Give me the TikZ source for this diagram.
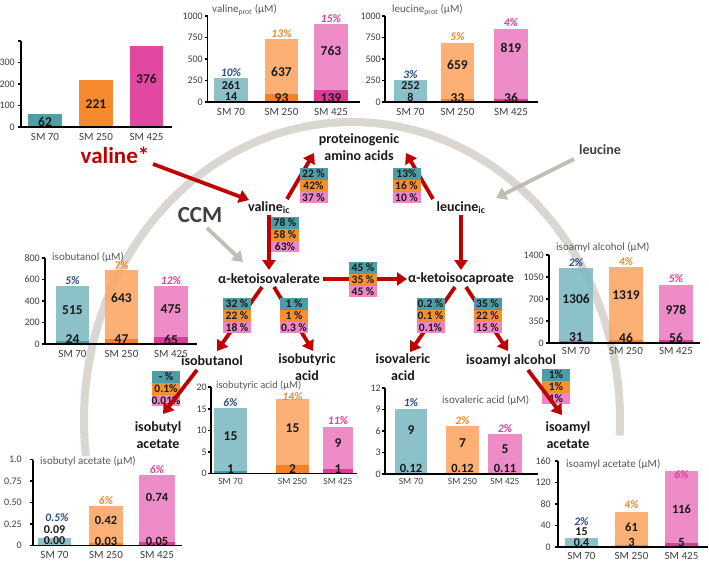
\documentclass[tikz,border=0pt]{standalone}
\usepackage{fontspec}
\setmainfont{Carlito}
\usetikzlibrary{arrows.meta,calc}
\definecolor{tealL}{HTML}{80BBC4}
\definecolor{tealD}{HTML}{4A9BA5}
\definecolor{orL}{HTML}{FCA866}
\definecolor{orD}{HTML}{F5822A}
\definecolor{pkL}{HTML}{EC80C0}
\definecolor{pkD}{HTML}{DC3C98}
\definecolor{tealS}{HTML}{4F9FA9}
\definecolor{orS}{HTML}{F7892F}
\definecolor{pkS}{HTML}{E2489F}
\definecolor{bxT}{HTML}{4E9CA6}
\definecolor{bxO}{HTML}{F5902E}
\definecolor{bxP}{HTML}{EE85C5}
\definecolor{redA}{HTML}{C00000}
\definecolor{grayA}{HTML}{C0BCB6}
\definecolor{arcC}{HTML}{DAD7D2}
\definecolor{pcT}{HTML}{2F4B8A}
\definecolor{pcO}{HTML}{F08A30}
\definecolor{pcP}{HTML}{E0409A}
\definecolor{axG}{HTML}{404040}
\definecolor{ttlG}{HTML}{595959}
\definecolor{txtK}{HTML}{1A1A1A}
\newcommand\fs[1]{\fontsize{#1}{#1}\selectfont}
\newcommand\pcbox[6]{%
  \node[pb,fill=bxT] (#1a) at (#2,#3+5.9) {#4};
  \node[pb,fill=bxO] (#1b) at (#2,#3+17.7) {#5};
  \node[pb,fill=bxP] (#1c) at (#2,#3+29.5) {#6};}
\newcommand\yticks[3]{%
  \foreach \yy/\lab in {#3}{\draw[axln] (#1,\yy) -- ++(-3,0); \node[tl] at (#2,\yy) {\lab};}}
\begin{document}
\begin{tikzpicture}[x=1pt,y=-1pt,
  axln/.style={line width=1.2pt, black},
  tl/.style={anchor=east, inner sep=0pt, font=\fs{10}, text=axG},
  ttl/.style={anchor=west, inner sep=0pt, font=\fs{11}, text=ttlG},
  sml/.style={inner sep=0pt, font=\fs{11}, text=axG},
  smls/.style={inner sep=0pt, font=\fs{9.5}, text=axG},
  num/.style={inner sep=0pt, font=\bfseries\fs{13.5}, text=txtK},
  nums/.style={inner sep=0pt, font=\bfseries\fs{12.5}, text=txtK},
  numt/.style={inner sep=0pt, font=\bfseries\fs{12}, text=txtK},
  pc/.style={inner sep=0pt, font=\bfseries\itshape\fs{11.5}},
  lbl/.style={inner sep=1pt, font=\bfseries\fontsize{14}{17}\selectfont, align=center, text=txtK},
  pb/.style={minimum width=28pt, minimum height=11.8pt, inner sep=0pt, font=\bfseries\fs{11.5}, text=txtK},
  redarr/.style={draw=redA, line width=3.8pt, -{Triangle[length=10pt,width=13pt]}},
  grayarr/.style={draw=grayA, line width=3.8pt, -{Triangle[length=10pt,width=13pt]}},
  lightbar/.style={fill opacity=0.9}]
\fill[white] (0,0) rectangle (709,562);
\useasboundingbox (0,0) rectangle (709,562);

% big arc
\draw[arcC, line width=8pt] plot[smooth, domain=-3:187, samples=90, variable=\t] ({352+268*cos(\t)},{420-298*sin(\t)});

% ---------- Chart A (valine) ----------
\fill[tealS] (28,127) rectangle (62,113.7);
\fill[orS] (79,127) rectangle (113,79.5);
\fill[pkS] (130,127) rectangle (163,46.2);
\draw[axln] (21,41) -- (21,127) -- (172,127);
\draw[axln] (21,41) -- ++(-3,0);
\yticks{21}{15}{127/0,105.5/100,84/200,62.5/300}
\node[num] (a1) at (45,121.5) {62};
\node[num] (a2) at (96,104) {221};
\node[num] (a3) at (146.5,79) {376};
\node[sml] at (45,136.5) {SM 70};
\node[sml] at (96,136.5) {SM 250};
\node[sml] at (146.5,136.5) {SM 425};

% ---------- Chart B (valine prot) ----------
\fill[tealL,lightbar] (214,102) rectangle (248,78.4); \fill[tealD] (214,102) rectangle (248,100.8);
\fill[orL,lightbar] (265,102) rectangle (298,39.2); \fill[orD] (265,102) rectangle (298,94);
\fill[pkL,lightbar] (314,102) rectangle (348,24.4); \fill[pkD] (314,102) rectangle (348,90);
\draw[axln] (207.5,16) -- (207.5,102) -- (360,102);
\yticks{207.5}{203}{102/0,80.5/250,59/500,37.5/750,16/1000}
\node[ttl] at (212,10) {valine\textsubscript{prot} (μM)};
\node[pc,text=pcT] at (231,73) {10\%};
\node[pc,text=pcO] at (281.5,34) {13\%};
\node[pc,text=pcP] at (331,19) {15\%};
\node[numt] at (231,85.5) {261}; \node[numt] at (231,97) {14};
\node[num] at (281.5,72) {637}; \node[num] at (281.5,98.5) {93};
\node[num] at (331,51) {763}; \node[num] at (331,98.5) {139};
\node[sml] at (231,111.5) {SM 70};
\node[sml] at (281.5,111.5) {SM 250};
\node[sml] at (331,111.5) {SM 425};

% ---------- Chart C (leucine prot) ----------
\fill[tealL,lightbar] (394,102) rectangle (427,79.6); \fill[tealD] (394,102) rectangle (427,101.2);
\fill[orL,lightbar] (441,102) rectangle (474,42.5); \fill[orD] (441,102) rectangle (474,99.2);
\fill[pkL,lightbar] (494,102) rectangle (528,28.5); \fill[pkD] (494,102) rectangle (528,98.9);
\draw[axln] (385,16) -- (385,102) -- (538,102);
\yticks{385}{381}{102/0,80.5/250,59/500,37.5/750,16/1000}
\node[ttl] at (392,10) {leucine\textsubscript{prot} (μM)};
\node[pc,text=pcT] at (410.5,74.5) {3\%};
\node[pc,text=pcO] at (457.5,37) {5\%};
\node[pc,text=pcP] at (511,22.5) {4\%};
\node[numt] at (410.5,85.5) {252}; \node[numt] at (410.5,97) {8};
\node[num] at (457.5,65) {659}; \node[num] at (457.5,98.5) {33};
\node[num] at (511,48) {819}; \node[num] at (511,97.5) {36};
\node[sml] at (410.5,111.5) {SM 70};
\node[sml] at (457.5,111.5) {SM 250};
\node[sml] at (511,111.5) {SM 425};

% ---------- Chart D (isobutanol) ----------
\fill[tealL,lightbar] (56,344) rectangle (89,286); \fill[tealD] (56,344) rectangle (89,341.4);
\fill[orL,lightbar] (105,344) rectangle (138,270); \fill[orD] (105,344) rectangle (138,339);
\fill[pkL,lightbar] (154,344) rectangle (188,286); \fill[pkD] (154,344) rectangle (188,337);
\draw[axln] (45,258) -- (45,344) -- (197,344);
\yticks{45}{40}{344/0,322.5/200,301/400,279.5/600,258/800}
\node[ttl] at (52,257) {isobutanol (μM)};
\node[pc,text=pcT] at (72.5,281) {5\%};
\node[pc,text=pcO] at (121.5,266) {7\%};
\node[pc,text=pcP] at (171,281) {12\%};
\node[num] at (72.5,310) {515}; \node[num] at (72.5,339.5) {24};
\node[num] at (121.5,298) {643}; \node[num] at (121.5,339.5) {47};
\node[num] at (171,309) {475}; \node[num] at (171,339.5) {65};
\node[sml] at (72.5,353.5) {SM 70};
\node[sml] at (121.5,353.5) {SM 250};
\node[sml] at (171,353.5) {SM 425};

% ---------- Chart E (isoamyl alcohol) ----------
\fill[tealL,lightbar] (559,343) rectangle (593,268); \fill[tealD] (559,343) rectangle (593,341);
\fill[orL,lightbar] (609,343) rectangle (643,267); \fill[orD] (609,343) rectangle (643,340.1);
\fill[pkL,lightbar] (659,343) rectangle (693,285); \fill[pkD] (659,343) rectangle (693,339.5);
\draw[axln] (549,255) -- (549,343) -- (700,343);
\yticks{549}{544}{343/0,321/350,299/700,277/1050,255/1400}
\node[ttl] at (556,247) {isoamyl alcohol (μM)};
\node[pc,text=pcT] at (576,262.5) {2\%};
\node[pc,text=pcO] at (626,261.5) {4\%};
\node[pc,text=pcP] at (676,279) {5\%};
\node[num] at (576,299) {1306}; \node[num] at (576,337.5) {31};
\node[num] at (626,295) {1319}; \node[num] at (626,337.5) {46};
\node[num] at (676,310) {978}; \node[num] at (676,337.5) {56};
\node[sml] at (576,351) {SM 70};
\node[sml] at (626,351) {SM 250};
\node[sml] at (676,351) {SM 425};

% ---------- Chart F (isobutyric acid) ----------
\fill[tealL,lightbar] (214,473.5) rectangle (247,408); \fill[tealD] (214,473.5) rectangle (247,470.5);
\fill[orL,lightbar] (276,473.5) rectangle (309,399); \fill[orD] (276,473.5) rectangle (309,464.5);
\fill[pkL,lightbar] (323,473.5) rectangle (353,427); \fill[pkD] (323,473.5) rectangle (353,468.5);
\draw[axln] (211,387) -- (211,473.5) -- (357,473.5);
\yticks{211}{207}{473.5/0,452/5,430.5/10,409/15,387/20}
\node[ttl,font=\fs{10.5}] at (216,385) {isobutyric acid (μM)};
\node[pc,text=pcT] at (230.5,403) {6\%};
\node[pc,text=pcO] at (292.5,396.5) {14\%};
\node[pc,text=pcP] at (338,421) {11\%};
\node[num] at (230.5,436) {15}; \node[num] at (230.5,469) {1};
\node[num] at (292.5,428) {15}; \node[num] at (292.5,469) {2};
\node[num] at (338,443) {9}; \node[num] at (338,469) {1};
\node[smls] at (230.5,481.5) {SM 70};
\node[smls] at (292.5,481.5) {SM 250};
\node[smls] at (338,481.5) {SM 425};

% ---------- Chart G (isovaleric acid) ----------
\fill[tealL,lightbar] (395,474) rectangle (427,409); \fill[tealD] (395,474) rectangle (427,473);
\fill[orL,lightbar] (446,474) rectangle (479,426); \fill[orD] (446,474) rectangle (479,473);
\fill[pkL,lightbar] (488,474) rectangle (522,434); \fill[pkD] (488,474) rectangle (522,473);
\draw[axln] (385,388) -- (385,474) -- (538,474);
\yticks{385}{381}{474/0,452.5/3,431/6,409.5/9,388/12}
\node[ttl] at (442,400) {isovaleric acid (μM)};
\node[pc,text=pcT] at (411,403) {1\%};
\node[pc,text=pcO] at (462.5,420.5) {2\%};
\node[pc,text=pcP] at (505,428.5) {2\%};
\node[num] at (411,430) {9}; \node[nums] at (411,468) {0.12};
\node[num] at (462.5,443) {7}; \node[nums] at (462.5,468) {0.12};
\node[num] at (505,449) {5}; \node[nums] at (505,468) {0.11};
\node[smls] at (411,481.5) {SM 70};
\node[smls] at (462.5,481.5) {SM 250};
\node[smls] at (505,481.5) {SM 425};

% ---------- Chart H (isobutyl acetate) ----------
\fill[tealL,lightbar] (38,545.5) rectangle (71,538);
\fill[orL,lightbar] (89,545.5) rectangle (123,506); \fill[orD] (89,545.5) rectangle (123,543);
\fill[pkL,lightbar] (139,545.5) rectangle (175,475); \fill[pkD] (139,545.5) rectangle (175,541.5);
\draw[axln] (33,459.5) -- (33,545.5) -- (182,545.5);
\yticks{33}{22}{545.5/0,524/0.25,502.5/0.50,481/0.75,459.5/1.0}
\node[ttl] at (40,461) {isobutyl acetate (μM)};
\node[pc,text=pcT] at (57,518) {0.5\%};
\node[pc,text=pcO] at (106,500.5) {6\%};
\node[pc,text=pcP] at (157,469.5) {6\%};
\node[numt] at (54.5,529.5) {0.09}; \node[numt] at (54.5,540.5) {0.00};
\node[nums] at (106,520) {0.42}; \node[nums] at (106,541) {0.03};
\node[nums] at (157,497) {0.74}; \node[nums] at (157,541) {0.05};
\node[sml] at (54.5,555) {SM 70};
\node[sml] at (106,555) {SM 250};
\node[sml] at (157,555) {SM 425};

% ---------- Chart I (isoamyl acetate) ----------
\fill[tealL,lightbar] (565,547) rectangle (598,538); \fill[tealD] (565,547) rectangle (598,546.5);
\fill[orL,lightbar] (615,547) rectangle (648,512); \fill[orD] (615,547) rectangle (648,545.4);
\fill[pkL,lightbar] (665,547) rectangle (698,471); \fill[pkD] (665,547) rectangle (698,543);
\draw[axln] (558,461) -- (558,547) -- (708,547);
\yticks{558}{551}{547/0,525.5/40,504/80,482.5/120,461/160}
\node[ttl] at (566,464) {isoamyl acetate (μM)};
\node[pc,text=pcT] at (581.5,521.5) {2\%};
\node[pc,text=pcO] at (631.5,505) {4\%};
\node[pc,text=pcP] at (681.5,475) {6\%};
\node[numt] at (581.5,532) {15}; \node[numt] at (581.5,543) {0.4};
\node[nums] at (631.5,527) {61}; \node[nums] at (631.5,542) {3};
\node[nums] at (681.5,509) {116}; \node[nums] at (681.5,542) {5};
\node[sml] at (581.5,556) {SM 70};
\node[sml] at (631.5,556) {SM 250};
\node[sml] at (681.5,556) {SM 425};

% ---------- pathway nodes ----------
\node[lbl] (prot) at (359,147) {proteinogenic\\amino acids};
\node[lbl,text=redA,font=\bfseries\fs{23}] (valstar) at (115,155) {valine*};
\node[lbl] (valic) at (269,208) {valine\textsubscript{ic}};
\node[lbl] (leuic) at (461,208) {leucine\textsubscript{ic}};
\node[lbl,text=axG] (leu) at (600,150) {leucine};
\node[lbl,text=axG,font=\bfseries\fs{23}] (ccm) at (200,215) {CCM};
\node[lbl] (akiv) at (269,279) {α-ketoisovalerate};
\node[lbl] (akic) at (461,279) {α-ketoisocaproate};
\node[lbl] (ibol) at (212,361) {isobutanol};
\node[lbl] (ibacid) at (307,367) {isobutyric\\acid};
\node[lbl] (ival) at (403,367) {isovaleric\\acid};
\node[lbl] (iaa) at (511,361) {isoamyl alcohol};
\node[lbl] (ibac) at (158,435) {isobutyl\\acetate};
\node[lbl] (iaac) at (568,435) {isoamyl\\acetate};

% ---------- arrows behind boxes ----------
\draw[redarr] ($(valstar)+(38,9)$) -- ($(valic)+(-20,-8)$);
\draw[grayarr] ($(leu)+(-26,9)$) -- ($(leuic)+(35,-10)$);
\draw[grayarr] ($(ccm)+(7,13)$) -- ($(akiv)+(-26,-17)$);
\draw[redarr] ($(valic)+(0,7)$) -- ($(akiv)+(0,-9)$);
\draw[redarr] ($(leuic)+(0,7)$) -- ($(akic)+(0,-9)$);
\draw[redarr] ($(akiv)+(54,0)$) -- ($(akic)+(-54,0)$);
\draw[redarr] ($(akiv)+(-7,8)$) -- ($(ibol)+(5,-10)$);
\draw[redarr] ($(akiv)+(5,8)$) -- ($(ibacid)+(6,-16)$);
\draw[redarr] ($(akic)+(-6,8)$) -- ($(ival)+(7,-15)$);
\draw[redarr] ($(akic)+(5,8)$) -- ($(iaa)+(-3,-10)$);
\draw[redarr] ($(valic)+(18,-9)$) -- ($(prot)+(-45,6)$);
\draw[redarr] ($(leuic)+(-28,-9)$) -- ($(prot)+(47,6)$);

% ---------- percentage boxes ----------
\pcbox{bp1}{313.5}{168}{22 \%}{42\%}{37 \%}
\pcbox{bp2}{406.5}{168}{13\%}{16 \%}{10 \%}
\pcbox{bvk}{285}{217}{78 \%}{58 \%}{63\%}
\pcbox{bkk}{363}{262}{45 \%}{35 \%}{45 \%}
\pcbox{bib}{237}{298}{32 \%}{22 \%}{18 \%}
\pcbox{bia}{294}{298}{1 \%}{1 \%}{0.3 \%}
\pcbox{biv}{430.5}{298}{0.2 \%}{0.1 \%}{0.1\%}
\pcbox{bim}{487.5}{298}{35 \%}{22 \%}{15 \%}
\pcbox{bac}{556}{369}{1\%}{1\%}{1\%}
\pcbox{bba}{166}{371}{- \%}{0.1\%}{0.01\%}

% ---------- arrows in front ----------
\draw[redarr] ($(ibol)+(-15,9)$) -- ($(ibac)+(5,-21)$);
\draw[redarr] ($(iaa)+(17,9)$) -- ($(iaac)+(-6,-20)$);
\end{tikzpicture}
\end{document}
